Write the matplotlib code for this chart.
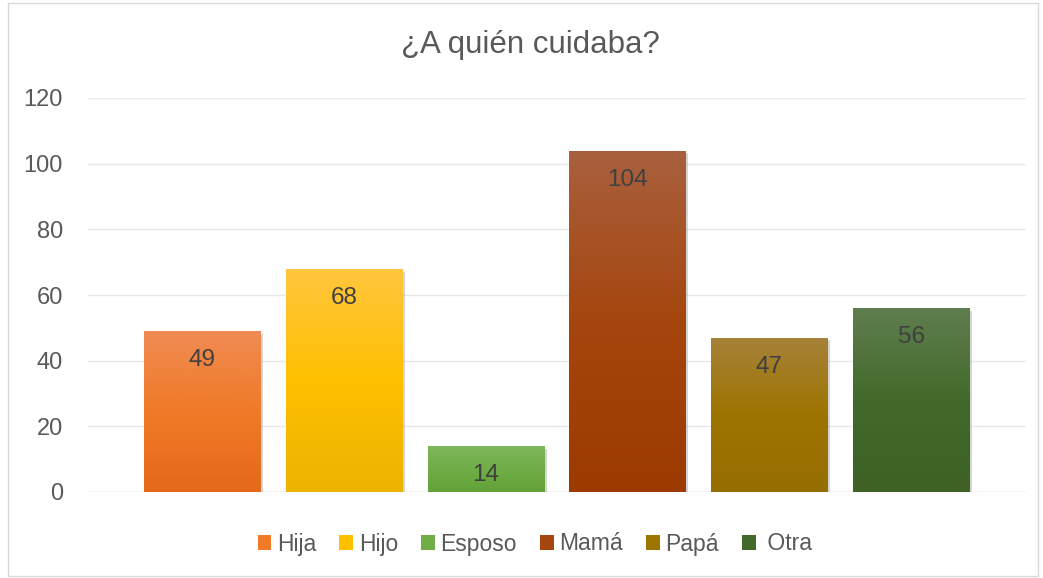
import matplotlib.pyplot as plt
import numpy as np
from matplotlib.colors import LinearSegmentedColormap
from matplotlib.patches import Patch, Rectangle
import matplotlib.patheffects as pe

plt.rcParams['font.family'] = ['Liberation Sans', 'DejaVu Sans']

categories = ['Hija', 'Hijo', 'Esposo', 'Mamá', 'Papá', 'Otra']
legend_labels = ['Hija', 'Hijo', 'Esposo', 'Mamá', 'Papá', ' Otra']
values = [49, 68, 14, 104, 47, 56]
top_colors = ['#F08B52', '#FFC63E', '#7EB85A', '#A9603E', '#A6823A', '#5E7E4E']
mid_colors = ['#F07A28', '#FFC000', '#70AD47', '#A5460E', '#9E7400', '#436A2A']
bottom_colors = ['#E4691A', '#EBB300', '#62A236', '#9C3A00', '#966E00', '#3D6224']
yticks = [0, 20, 40, 60, 80, 100, 120]

fig = plt.figure(figsize=(10.43, 5.78), dpi=100)
ax = fig.add_axes([88 / 1043, 86 / 578, 938 / 1043, 394 / 578])

x = np.arange(len(categories))
width = 0.82
bars = ax.bar(x, values, width=width, color='none', zorder=3)

grad = np.linspace(0, 1, 256).reshape(-1, 1)
for i, b in enumerate(bars):
    cmap = LinearSegmentedColormap.from_list(
        'g%d' % i, [(0, bottom_colors[i]), (0.5, mid_colors[i]), (1, top_colors[i])])
    b.set_path_effects([pe.SimplePatchShadow(offset=(2, -2), shadow_rgbFace='#888888', alpha=0.35), pe.Normal()])
    b.set_facecolor(mid_colors[i])
    xl = b.get_x()
    im = ax.imshow(grad, cmap=cmap, origin='lower', aspect='auto',
                   extent=[xl, xl + width, 0, values[i]], zorder=4)
    im.set_clip_path(b)
    ax.annotate(str(values[i]), (x[i], values[i]), xytext=(0, -21), textcoords='offset points',
                ha='center', va='center', fontsize=17.5, color='#404040', zorder=5)

ax.set_xlim(-0.804, 5.81)
ax.set_ylim(0, 120)
ax.set_yticks(yticks)
ax.set_xticks([])
ax.tick_params(axis='y', length=0, pad=18, labelsize=17, labelcolor='#595959')
ax.grid(axis='y', color='#E8E8E8', linewidth=1, zorder=0)
for s in ax.spines.values():
    s.set_visible(False)
ax.axhline(0, color='#D9D9D9', linewidth=1, zorder=1)

fig.text(530 / 1043, 1 - 45 / 578, '¿A quién cuidaba?', ha='center', va='center',
         fontsize=22.5, color='#595959')

handles = [Patch(facecolor=c, edgecolor='none') for c in mid_colors]
fig.legend(handles, legend_labels, loc='center', bbox_to_anchor=(535 / 1043, 1 - 544 / 578),
           ncol=6, frameon=False, fontsize=16.5, labelcolor='#595959',
           handlelength=0.6, handleheight=0.6, handletextpad=0.25, columnspacing=1.0)

fig.patches.append(Rectangle((8 / 1043, 2 / 578), 1030 / 1043, 573 / 578, transform=fig.transFigure,
                             fill=False, edgecolor='#D9D9D9', linewidth=1))

fig.savefig('out.png', dpi=100)
